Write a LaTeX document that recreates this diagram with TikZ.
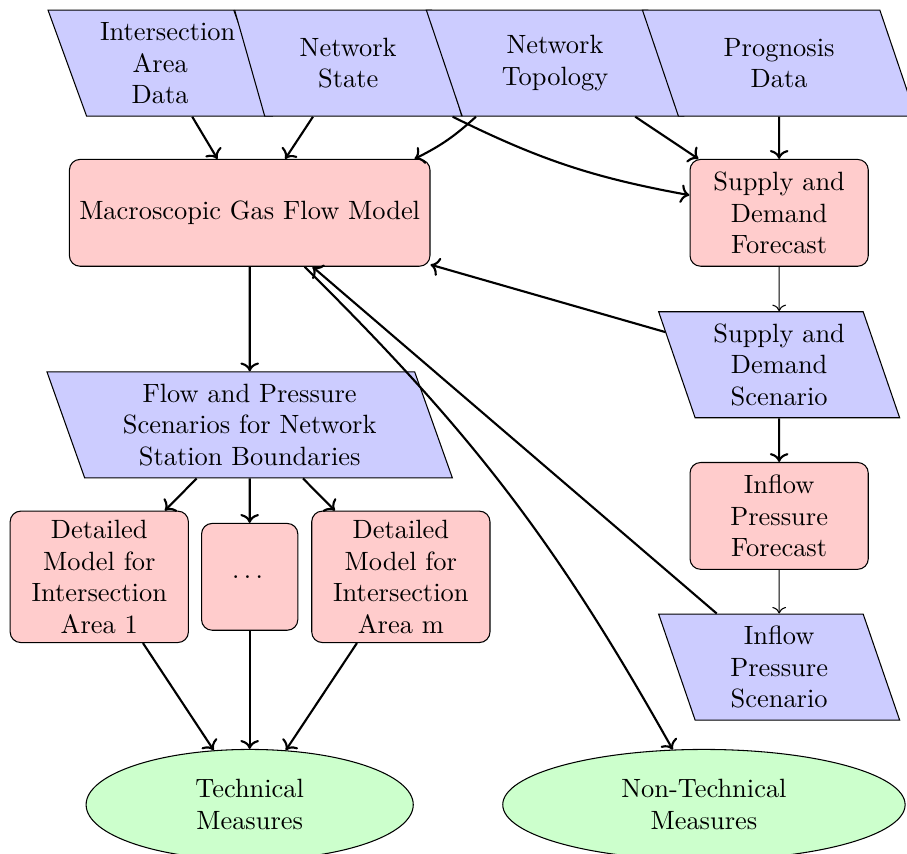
\documentclass[tikz,border=0pt]{standalone}
\usepackage{amsmath,amssymb}
\usepackage{tikz}
\usetikzlibrary{shapes.geometric,arrows.meta}
\usepackage{xcolor}

\begin{document}
\begin{tikzpicture}[
    model/.style={rectangle, rounded corners, draw=black, fill=red!20, minimum height=1.42cm, align=center},
    data/.style={trapezium, trapezium left angle=110, trapezium right angle=70, trapezium stretches=true,
        draw=black, fill=blue!20, minimum height=1.41cm, align=center},
    measure/.style={ellipse, draw=black, fill=green!20, minimum height=1.47cm, align=center},
    arrow/.style={->,thick}
]
    \useasboundingbox (0,0) rectangle (12.06,-11.35);

    % Input data
    \node[data, minimum width=3cm, text width=1.6cm] (area) at (2.13,-0.84) {Intersection Area Data};
    \node[data, minimum width=3.04cm, text width=1.6cm] (state) at (4.63,-0.84) {Network State};
    \node[data, minimum width=3.43cm, text width=1.6cm] (topo) at (7.38,-0.84) {Network Topology};
    \node[data, minimum width=3.64cm, text width=1.6cm] (prog) at (10.36,-0.84) {Prognosis Data};

    % Models and scenarios
    \node[model, minimum width=4.79cm, text width=4.56cm] (macro) at (3.32,-2.83) {Macroscopic Gas Flow Model};
    \node[model, minimum width=2.37cm, text width=2cm] (sdf) at (10.36,-2.83) {Supply and Demand Forecast};
    \node[data, minimum width=3.15cm, text width=2cm] (sds) at (10.36,-4.85) {Supply and Demand Scenario};
    \node[model, minimum width=2.37cm, text width=2cm] (ipf) at (10.36,-6.86) {Inflow Pressure Forecast};
    \node[data, minimum width=3.15cm, text width=2cm] (ips) at (10.36,-8.87) {Inflow Pressure Scenario};
    \node[data, minimum width=5.4cm, text width=4cm] (fps) at (3.32,-5.65) {Flow and Pressure Scenarios for Network Station Boundaries};

    % Detailed models
    \node[model, minimum width=2.37cm, text width=2cm] (dm1) at (1.32,-7.67) {Detailed Model for Intersection Area 1};
    \node[model, minimum width=1.28cm] (dots) at (3.32,-7.67) {$\dots$};
    \node[model, minimum width=2.37cm, text width=2cm] (dmm) at (5.33,-7.67) {Detailed Model for Intersection Area m};

    % Measures
    \node[measure, minimum width=4.35cm] (tm) at (3.32,-10.70) {Technical\\Measures};
    \node[measure, minimum width=5.35cm] (ntm) at (9.36,-10.70) {Non-Technical\\Measures};

    % Connections
    \draw[arrow] (area) -- (macro);
    \draw[arrow] (state) -- (macro);
    \draw[arrow] (topo) to[bend left=8] (macro);
    \draw[arrow] (state) to[bend right=8] (sdf);
    \draw[arrow] (topo) -- (sdf);
    \draw[arrow] (prog) -- (sdf);
    \draw[->] (sdf) -- (sds);
    \draw[arrow] (sds) -- (macro);
    \draw[arrow] (sds) -- (ipf);
    \draw[->] (ipf) -- (ips);
    \draw[arrow] (ips) -- (macro);
    \draw[arrow] (macro) -- (fps);
    \draw[arrow] (macro) to[bend left=8] (ntm);

    \foreach \m in {dm1,dots,dmm}
        \draw[arrow] (fps) -- (\m);
    \foreach \m in {dm1,dots,dmm}
        \draw[arrow] (\m) -- (tm);
\end{tikzpicture}
\end{document}
